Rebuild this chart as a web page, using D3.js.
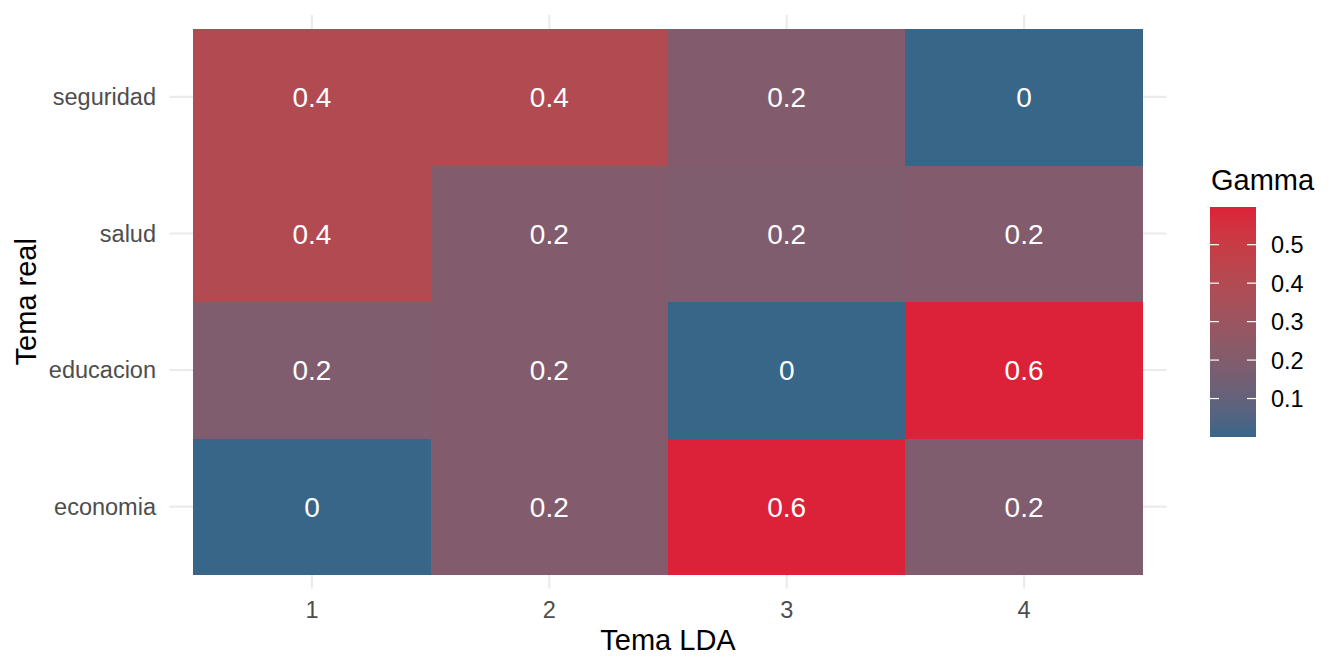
<!DOCTYPE html>
<html>
<head>
<meta charset="utf-8">
<script src="https://cdn.jsdelivr.net/npm/d3@7"></script>
<style>
  body { margin: 0; background: #fff; }
  svg { display: block; font-family: 'Liberation Sans', Arial, sans-serif; }
</style>
</head>
<body>
<svg id="chart"></svg>
<script>
// data
const temaLDA = ['1', '2', '3', '4']
const temaReal = ['economia', 'educacion', 'salud', 'seguridad']
const gammaEconomia = [0.0, 0.203, 0.598, 0.196]
const gammaEducacion = [0.196, 0.203, 0.0, 0.598]
const gammaSalud = [0.401, 0.203, 0.195, 0.203]
const gammaSeguridad = [0.401, 0.4, 0.201, 0.0]
const legendTicks = [0.1, 0.2, 0.3, 0.4, 0.5]

const rows = {
  economia: gammaEconomia,
  educacion: gammaEducacion,
  salud: gammaSalud,
  seguridad: gammaSeguridad
}

const cells = []
temaReal.forEach(r => {
  rows[r].forEach((g, i) => cells.push({ real: r, lda: temaLDA[i], gamma: g }))
})

const width = 1344
const height = 672
const panel = { left: 169.5, right: 1166.5, top: 15, bottom: 588.5 }

const svg = d3.select('#chart')
  .attr('width', width)
  .attr('height', height)
  .attr('viewBox', `0 0 ${width} ${height}`)

// discrete scales, 0.6 units of expansion like ggplot
const x = d3.scaleBand()
  .domain(temaLDA)
  .range([panel.left, panel.right])
  .paddingInner(0)
  .paddingOuter(0.1)

const y = d3.scaleBand()
  .domain(temaReal.slice().reverse())
  .range([panel.top, panel.bottom])
  .paddingInner(0)
  .paddingOuter(0.1)

const gMin = d3.min(cells, d => d.gamma)
const gMax = d3.max(cells, d => d.gamma)
const color = d3.scaleLinear()
  .domain([gMin, gMax])
  .range(['#386689', '#DC2238'])
  .interpolate(d3.interpolateLab)

const gridColor = '#EBEBEB'
const tickColor = '#4D4D4D'

// grid
svg.append('g')
  .selectAll('line')
  .data(temaLDA)
  .join('line')
  .attr('x1', d => x(d) + x.bandwidth() / 2)
  .attr('x2', d => x(d) + x.bandwidth() / 2)
  .attr('y1', panel.top)
  .attr('y2', panel.bottom)
  .attr('stroke', gridColor)
  .attr('stroke-width', 2.2)

svg.append('g')
  .selectAll('line')
  .data(temaReal)
  .join('line')
  .attr('x1', panel.left)
  .attr('x2', panel.right)
  .attr('y1', d => y(d) + y.bandwidth() / 2)
  .attr('y2', d => y(d) + y.bandwidth() / 2)
  .attr('stroke', gridColor)
  .attr('stroke-width', 2.2)

// tiles
svg.append('g')
  .attr('shape-rendering', 'crispEdges')
  .selectAll('rect')
  .data(cells)
  .join('rect')
  .attr('x', d => x(d.lda))
  .attr('y', d => y(d.real))
  .attr('width', x.bandwidth() + 0.5)
  .attr('height', y.bandwidth() + 0.5)
  .attr('fill', d => color(d.gamma))

svg.append('g')
  .selectAll('text')
  .data(cells)
  .join('text')
  .attr('x', d => x(d.lda) + x.bandwidth() / 2)
  .attr('y', d => y(d.real) + y.bandwidth() / 2)
  .attr('dy', '0.36em')
  .attr('text-anchor', 'middle')
  .attr('fill', 'white')
  .attr('font-size', '28px')
  .text(d => d3.format('.1~f')(Math.round(d.gamma * 10) / 10))

// axis labels
svg.append('g')
  .selectAll('text')
  .data(temaLDA)
  .join('text')
  .attr('x', d => x(d) + x.bandwidth() / 2)
  .attr('y', 617.5)
  .attr('text-anchor', 'middle')
  .attr('fill', tickColor)
  .attr('font-size', '23.5px')
  .text(d => d)

svg.append('g')
  .selectAll('text')
  .data(temaReal)
  .join('text')
  .attr('x', 156)
  .attr('y', d => y(d) + y.bandwidth() / 2)
  .attr('dy', '0.36em')
  .attr('text-anchor', 'end')
  .attr('fill', tickColor)
  .attr('font-size', '23.5px')
  .text(d => d)

svg.append('text')
  .attr('x', (panel.left + panel.right) / 2)
  .attr('y', 650)
  .attr('text-anchor', 'middle')
  .attr('fill', 'black')
  .attr('font-size', '29px')
  .text('Tema LDA')

svg.append('text')
  .attr('transform', `translate(36,${(panel.top + panel.bottom) / 2}) rotate(-90)`)
  .attr('text-anchor', 'middle')
  .attr('fill', 'black')
  .attr('font-size', '29px')
  .text('Tema real')

// legend
const legX = 1210
const legW = 46
const legend = d3.scaleLinear().domain([gMin, gMax]).range([437, 207])

const grad = svg.append('defs').append('linearGradient')
  .attr('id', 'gammaGrad')
  .attr('x1', 0).attr('y1', 1).attr('x2', 0).attr('y2', 0)
grad.selectAll('stop')
  .data(d3.range(0, 1.0001, 0.05))
  .join('stop')
  .attr('offset', d => d)
  .attr('stop-color', d => color(gMin + d * (gMax - gMin)))

svg.append('rect')
  .attr('x', legX)
  .attr('y', legend(gMax))
  .attr('width', legW)
  .attr('height', legend(gMin) - legend(gMax))
  .attr('fill', 'url(#gammaGrad)')

const lt = svg.append('g')
lt.selectAll('line.l')
  .data(legendTicks)
  .join('line')
  .attr('class', 'l')
  .attr('x1', legX).attr('x2', legX + 9)
  .attr('y1', d => legend(d)).attr('y2', d => legend(d))
  .attr('stroke', 'white').attr('stroke-width', 1.2)
lt.selectAll('line.r')
  .data(legendTicks)
  .join('line')
  .attr('class', 'r')
  .attr('x1', legX + legW - 9).attr('x2', legX + legW)
  .attr('y1', d => legend(d)).attr('y2', d => legend(d))
  .attr('stroke', 'white').attr('stroke-width', 1.2)
lt.selectAll('text')
  .data(legendTicks)
  .join('text')
  .attr('x', 1271)
  .attr('y', d => legend(d))
  .attr('dy', '0.36em')
  .attr('fill', 'black')
  .attr('font-size', '23.5px')
  .text(d => d3.format('.1f')(d))

svg.append('text')
  .attr('x', 1211)
  .attr('y', 190)
  .attr('fill', 'black')
  .attr('font-size', '29px')
  .text('Gamma')
</script>
</body>
</html>
